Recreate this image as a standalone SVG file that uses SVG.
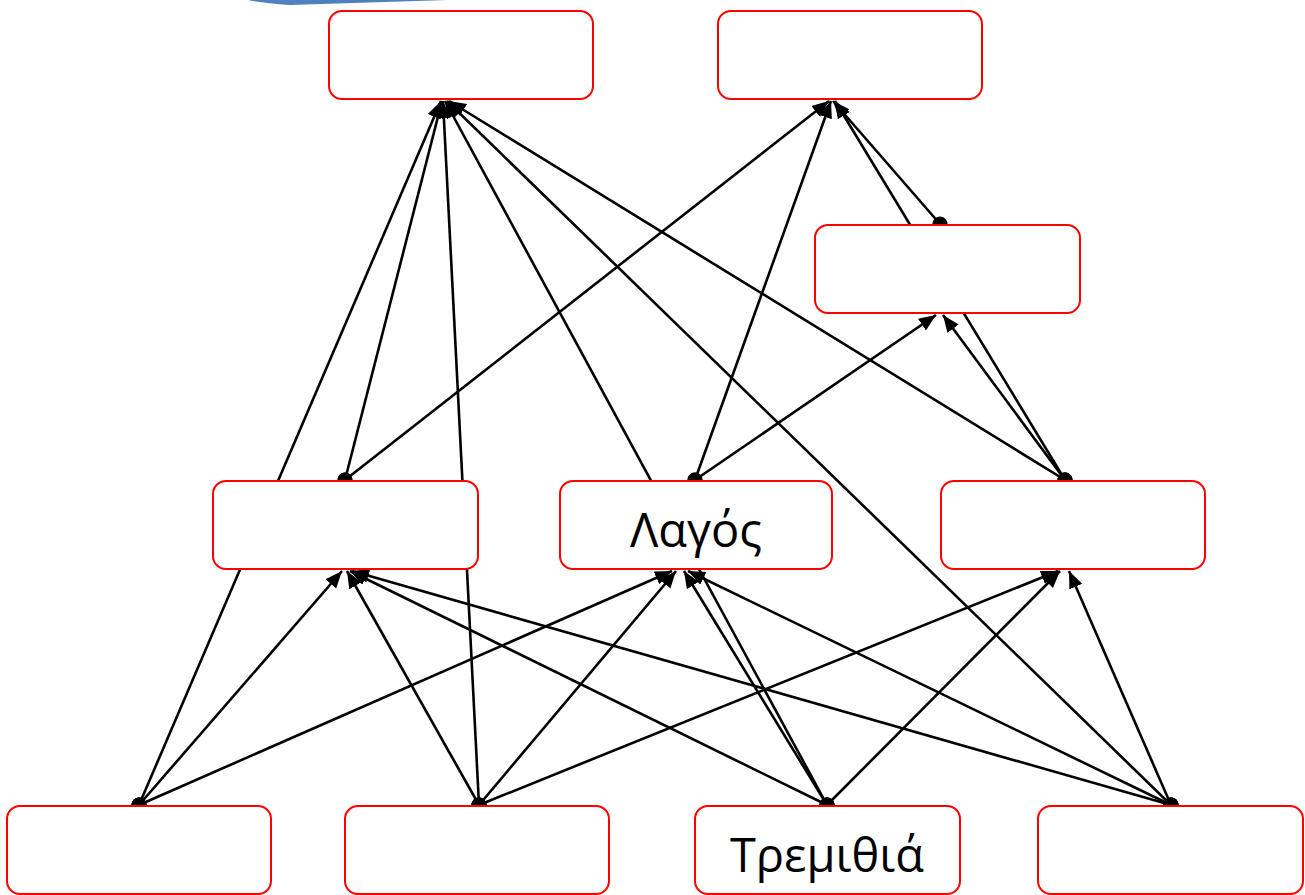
<svg xmlns="http://www.w3.org/2000/svg" width="1305" height="895" viewBox="0 0 1305 895">
<style>
.node rect{fill:#fff;stroke:#ff0000;stroke-width:2}
.node text{font-family:"Open Sans","Noto Sans","Liberation Sans",sans-serif;font-size:47px;fill:#000;text-anchor:middle}
.edge{stroke:#000;stroke-width:2.6;fill:none;marker-start:url(#dot);marker-end:url(#arr)}
</style>
<defs>
<marker id="arr" markerUnits="userSpaceOnUse" markerWidth="20" markerHeight="16" refX="17" refY="7" orient="auto"><path d="M0,0 L17,7 L0,14 z" fill="#000"/></marker>
<marker id="dot" markerUnits="userSpaceOnUse" markerWidth="18" markerHeight="18" refX="9" refY="9" orient="auto"><circle cx="9" cy="9" r="7.5" fill="#000"/></marker>
</defs>
<path d="M248,0 Q262,3 290,5 L448,0 Z" fill="#4f81bd"/>
<g id="connectors">
<line class="edge" x1="139" y1="805" x2="441" y2="101"/>
<line class="edge" x1="139" y1="805" x2="342" y2="571"/>
<line class="edge" x1="139" y1="805" x2="672" y2="571"/>
<line class="edge" x1="479" y1="805" x2="347" y2="571"/>
<line class="edge" x1="479" y1="805" x2="443" y2="101"/>
<line class="edge" x1="479" y1="805" x2="676" y2="571"/>
<line class="edge" x1="479" y1="805" x2="1058" y2="571"/>
<line class="edge" x1="827" y1="805" x2="350" y2="571"/>
<line class="edge" x1="827" y1="805" x2="684" y2="571"/>
<line class="edge" x1="827" y1="805" x2="445" y2="101"/>
<line class="edge" x1="827" y1="805" x2="1060" y2="571"/>
<line class="edge" x1="1171" y1="805" x2="352" y2="571"/>
<line class="edge" x1="1171" y1="805" x2="688" y2="571"/>
<line class="edge" x1="1171" y1="805" x2="447" y2="101"/>
<line class="edge" x1="1171" y1="805" x2="1069" y2="571"/>
<line class="edge" x1="345" y1="480" x2="442" y2="101"/>
<line class="edge" x1="345" y1="480" x2="829" y2="101"/>
<line class="edge" x1="695" y1="480" x2="831" y2="101"/>
<line class="edge" x1="695" y1="480" x2="936" y2="315"/>
<line class="edge" x1="1065" y1="480" x2="449" y2="101"/>
<line class="edge" x1="1065" y1="480" x2="943" y2="315"/>
<line class="edge" x1="1065" y1="480" x2="835" y2="101"/>
<line class="edge" x1="940" y1="224" x2="833" y2="101"/>
</g>
<g id="T1" class="node"><rect x="329" y="11" width="264" height="88" rx="13"/></g>
<g id="T2" class="node"><rect x="718" y="11" width="264" height="88" rx="13"/></g>
<g id="R" class="node"><rect x="815" y="225" width="265" height="88" rx="13"/></g>
<g id="M1" class="node"><rect x="213" y="481" width="265" height="88" rx="13"/></g>
<g id="M2" class="node"><rect x="560" y="481" width="272" height="88" rx="13"/><text x="696" y="547">Λαγός</text></g>
<g id="M3" class="node"><rect x="941" y="481" width="264" height="88" rx="13"/></g>
<g id="B1" class="node"><rect x="7" y="806" width="264" height="88" rx="13"/></g>
<g id="B2" class="node"><rect x="345" y="806" width="264" height="88" rx="13"/></g>
<g id="B3" class="node"><rect x="695" y="806" width="265" height="88" rx="13"/><text x="827" y="872">Τρεμιθιά</text></g>
<g id="B4" class="node"><rect x="1038" y="806" width="265" height="88" rx="13"/></g>
</svg>
